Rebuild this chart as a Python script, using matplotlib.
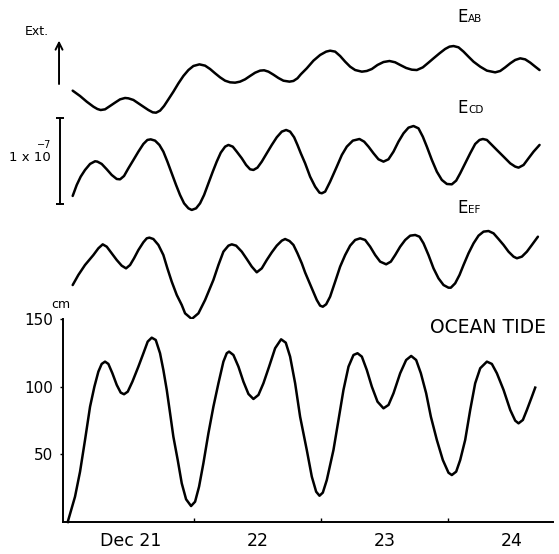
import matplotlib
matplotlib.use("Agg")
import matplotlib.pyplot as plt

# hours from the start of Dec 21 and trace values (units of 1e-7)
AB_HOURS = [1.07, 2.46, 3.72, 4.98, 5.73, 6.36, 7.18, 8.13, 9.07, 10.02, 10.96, 11.59, 12.54,
            13.48, 14.42, 15.37, 16.19, 16.82, 17.58, 18.33, 19.15, 20.09, 21.04, 21.98, 22.93,
            23.87, 25.01, 26.08, 27.02, 27.97, 28.91, 29.86, 30.80, 31.75, 32.69, 33.64, 34.58,
            35.53, 36.47, 37.23, 38.05, 38.99, 39.94, 40.88, 42.02, 42.77, 43.53, 44.16, 45.29,
            46.55, 47.81, 48.95, 49.70, 50.65, 51.59, 52.54, 53.48, 54.43, 55.69, 56.63, 57.58,
            58.65, 59.78, 60.91, 61.98, 62.93, 64.06, 65.13, 66.08, 67.21, 68.28, 69.23, 70.36,
            71.43, 72.25, 73.01, 73.95, 74.90, 75.84, 76.79, 78.05, 79.31, 80.88, 81.83, 82.77,
            83.72, 84.66, 85.61, 86.55, 87.50, 88.45, 89.26]
AB_VALUES = [-0.066, -0.128, -0.194, -0.252, -0.279, -0.291, -0.283, -0.244, -0.205, -0.167,
             -0.151, -0.155, -0.174, -0.213, -0.252, -0.291, -0.318, -0.322, -0.298, -0.244,
             -0.167, -0.078, 0.019, 0.105, 0.174, 0.221, 0.240, 0.225, 0.186, 0.136, 0.089,
             0.050, 0.031, 0.027, 0.039, 0.066, 0.105, 0.143, 0.167, 0.171, 0.155, 0.120, 0.081,
             0.050, 0.039, 0.047, 0.078, 0.124, 0.194, 0.283, 0.349, 0.388, 0.399, 0.388, 0.337,
             0.271, 0.213, 0.174, 0.155, 0.163, 0.186, 0.233, 0.267, 0.279, 0.264, 0.233, 0.198,
             0.178, 0.174, 0.205, 0.260, 0.310, 0.368, 0.419, 0.446, 0.453, 0.438, 0.388, 0.329,
             0.271, 0.213, 0.167, 0.147, 0.163, 0.205, 0.252, 0.291, 0.310, 0.298, 0.260, 0.213,
             0.174]

CD_HOURS = [1.07, 1.83, 2.58, 3.40, 4.35, 5.29, 5.73, 6.55, 7.50, 8.44, 9.39, 10.02, 10.77,
            11.59, 12.54, 13.48, 14.42, 15.18, 15.81, 16.63, 17.45, 18.20, 18.96, 19.78, 20.60,
            21.35, 22.11, 22.93, 23.56, 24.38, 25.13, 25.89, 26.71, 27.53, 28.28, 29.04, 29.86,
            30.49, 31.31, 32.06, 33.01, 33.83, 34.58, 35.21, 35.97, 36.79, 37.73, 38.68, 39.62,
            40.57, 41.39, 42.14, 42.90, 43.53, 44.16, 44.98, 45.92, 46.87, 47.69, 48.13, 48.76,
            49.70, 50.96, 51.91, 52.85, 53.99, 55.24, 56.13, 56.95, 57.89, 58.83, 59.78, 60.72,
            61.67, 62.61, 63.56, 64.50, 65.45, 66.39, 67.21, 67.97, 68.92, 69.86, 70.80, 71.75,
            72.69, 73.51, 74.27, 75.21, 76.16, 77.10, 77.92, 78.55, 79.31, 80.25, 81.20, 82.46,
            83.72, 84.66, 85.29, 86.24, 87.18, 88.13, 89.26]
CD_VALUES = [-0.360, -0.233, -0.136, -0.058, 0.012, 0.043, 0.039, 0.012, -0.050, -0.116, -0.163,
             -0.167, -0.128, -0.039, 0.058, 0.155, 0.244, 0.291, 0.298, 0.283, 0.233, 0.155,
             0.039, -0.097, -0.233, -0.349, -0.446, -0.504, -0.523, -0.504, -0.446, -0.349,
             -0.213, -0.078, 0.039, 0.143, 0.213, 0.233, 0.213, 0.155, 0.078, 0.000, -0.050,
             -0.058, -0.031, 0.039, 0.136, 0.233, 0.322, 0.388, 0.407, 0.388, 0.322, 0.233,
             0.136, 0.019, -0.136, -0.252, -0.322, -0.329, -0.310, -0.194, -0.019, 0.116, 0.213,
             0.283, 0.302, 0.271, 0.213, 0.136, 0.066, 0.039, 0.066, 0.155, 0.271, 0.368, 0.434,
             0.453, 0.426, 0.329, 0.213, 0.058, -0.078, -0.174, -0.221, -0.225, -0.182, -0.097,
             0.019, 0.136, 0.244, 0.291, 0.302, 0.291, 0.233, 0.174, 0.097, 0.019, -0.019,
             -0.031, 0.000, 0.078, 0.155, 0.233]

EF_HOURS = [1.07, 2.14, 3.40, 4.98, 5.92, 6.74, 7.50, 8.44, 9.39, 10.33, 11.15, 11.91, 12.66,
            13.48, 14.42, 15.06, 15.56, 16.31, 17.26, 18.20, 18.96, 19.78, 20.73, 21.67, 22.30,
            23.56, 24.82, 26.08, 27.65, 28.60, 29.54, 30.49, 31.12, 31.94, 33.01, 33.95, 34.90,
            35.84, 36.79, 37.73, 38.68, 39.62, 40.57, 41.20, 42.02, 42.77, 43.53, 44.35, 44.98,
            46.24, 47.18, 47.81, 48.32, 48.95, 49.70, 50.65, 51.59, 52.54, 53.48, 54.43, 55.37,
            56.31, 57.26, 58.21, 59.15, 60.28, 61.17, 61.99, 62.93, 63.88, 64.82, 65.77, 66.58,
            67.34, 68.28, 69.23, 70.17, 71.12, 72.06, 72.50, 73.32, 74.14, 74.90, 75.84, 76.79,
            77.73, 78.68, 79.62, 80.57, 81.51, 82.46, 83.40, 84.35, 84.98, 85.92, 86.87, 87.81,
            88.95]
EF_VALUES = [-0.233, -0.116, 0.000, 0.116, 0.194, 0.240, 0.213, 0.136, 0.058, -0.008, -0.039,
             0.000, 0.078, 0.174, 0.264, 0.310, 0.318, 0.302, 0.233, 0.116, -0.039, -0.194,
             -0.349, -0.465, -0.562, -0.628, -0.562, -0.407, -0.174, 0.000, 0.155, 0.225, 0.240,
             0.225, 0.155, 0.070, -0.019, -0.085, -0.039, 0.058, 0.147, 0.225, 0.283, 0.302,
             0.279, 0.233, 0.136, 0.019, -0.088, -0.271, -0.407, -0.473, -0.485, -0.457, -0.368,
             -0.194, -0.019, 0.116, 0.225, 0.291, 0.310, 0.291, 0.213, 0.116, 0.039, 0.008, 0.039,
             0.116, 0.213, 0.291, 0.341, 0.349, 0.329, 0.252, 0.116, -0.039, -0.155, -0.233,
             -0.264, -0.264, -0.213, -0.116, 0.000, 0.136, 0.252, 0.341, 0.388, 0.395, 0.368,
             0.302, 0.233, 0.155, 0.097, 0.078, 0.097, 0.155, 0.233, 0.329]

TIDE_HOURS = [0.13, 1.51, 2.46, 3.40, 4.35, 5.17, 5.92, 6.55, 7.18, 7.81, 8.57, 9.39, 10.14,
              10.77, 11.47, 12.35, 13.48, 14.43, 15.24, 16.00, 16.76, 17.57, 18.20, 18.84, 19.47,
              20.09, 20.91, 21.67, 22.49, 23.43, 24.19, 24.94, 25.76, 26.71, 27.65, 28.60, 29.54,
              30.17, 30.61, 31.43, 32.38, 33.32, 34.27, 35.21, 36.16, 37.10, 38.17, 39.31, 40.44,
              41.32, 42.14, 43.09, 44.03, 45.29, 46.24, 47.06, 47.69, 48.32, 49.07, 50.33, 51.28,
              52.22, 53.17, 54.11, 54.87, 55.69, 56.63, 57.58, 58.65, 59.78, 60.73, 61.67, 62.93,
              64.06, 65.01, 65.95, 66.84, 67.84, 68.73, 69.86, 70.99, 72.06, 72.69, 73.51, 74.27,
              75.21, 76.16, 77.10, 78.05, 79.31, 80.25, 81.20, 82.46, 83.72, 84.66, 85.29, 86.11,
              86.87, 87.81, 88.44]
TIDE_CM = [0.0, 18.7, 37.2, 60.6, 85.2, 100.0, 111.1, 116.8, 118.5, 116.8, 109.9, 101.3, 95.6,
           94.4, 96.3, 103.7, 114.8, 124.7, 133.3, 136.2, 134.5, 124.7, 112.3, 97.6, 80.3,
           63.0, 45.8, 28.6, 16.8, 11.8, 15.0, 26.1, 43.4, 65.6, 85.2, 102.5, 118.5,
           124.7, 125.9, 123.4, 114.8, 103.7, 94.6, 90.9, 93.9, 102.5, 114.8, 128.4, 135.0,
           132.5, 122.2, 102.5, 77.8, 53.2, 33.5, 22.4, 19.4, 21.7, 31.0, 53.2, 75.4,
           97.6, 114.8, 123.4, 124.7, 122.2, 112.3, 100.0, 88.9, 84.0, 86.5, 95.1, 109.9,
           119.7, 122.7, 119.7, 109.9, 95.1, 77.8, 60.6, 45.8, 36.4, 34.7, 37.2, 45.8,
           60.6, 82.8, 102.5, 113.6, 118.5, 116.8, 109.9, 97.6, 82.8, 74.9, 72.9, 75.4,
           82.8, 92.6, 99.3]

DAY_TICKS = [24, 48, 72]
DAY_LABEL_POS = [12, 36, 60, 84]
DAY_LABELS = ["Dec 21", "22", "23", "24"]

# vertical placement of the three traces (units of 1e-7)
OFFSETS = {"AB": 2.721, "CD": 1.791, "EF": 0.628}
XLIM = (-0.76, 91.8)

W, H = 559, 554
fig = plt.figure(figsize=(W / 100, H / 100), dpi=100)
fig.patch.set_facecolor("white")

LW = 1.8
INK = "black"

# top panel: the three extension records
top = fig.add_axes([63 / W, (H - 319) / H, 490 / W, 319 / H])
top.set_xlim(*XLIM)
top.set_ylim(0, 319 / 86)
top.axis("off")
for key, hrs, vals in [("AB", AB_HOURS, AB_VALUES), ("CD", CD_HOURS, CD_VALUES), ("EF", EF_HOURS, EF_VALUES)]:
    top.plot(hrs, [v + OFFSETS[key] for v in vals], color=INK, lw=LW,
             solid_joinstyle="round", solid_capstyle="round", clip_on=False)

for key, yb in [("AB", 3.453), ("CD", 2.395), ("EF", 1.233)]:
    top.text(73.7, yb, "E", fontsize=12, va="baseline", ha="left", color=INK)
    top.annotate(key, xy=(73.7, yb), xytext=(8, 0), textcoords="offset points",
                 fontsize=7.5, va="baseline", ha="left", color=INK)

# Ext. arrow
top.annotate("", xy=(-1.51, 3.27), xytext=(-1.51, 2.70),
             arrowprops=dict(arrowstyle="->,head_length=0.5,head_width=0.25", lw=1.4, color=INK),
             annotation_clip=False)
top.text(-5.67, 3.30, "Ext.", fontsize=9, ha="center", va="baseline", color=INK, clip_on=False)

# scale bar 1e-7
top.plot([-1.32, -1.32], [1.337, 2.337], color=INK, lw=1.4, clip_on=False)
top.plot([-1.32, -1.32], [1.337, 2.337], ls="none", marker="_", ms=6, mew=1.4, color=INK, clip_on=False)
top.text(-3.0, 1.837, "1 x 10", fontsize=9.5, ha="right", va="baseline", color=INK, clip_on=False)
top.text(-3.0, 1.99, "\u22127", fontsize=7, ha="right", va="baseline", color=INK, clip_on=False)

# bottom panel: ocean tide
ax = fig.add_axes([63 / W, 32 / H, 490 / W, 203 / H])
ax.plot(TIDE_HOURS, TIDE_CM, color=INK, lw=LW, solid_joinstyle="round", clip_on=False)
ax.set_xlim(*XLIM)
ax.set_ylim(0, 150)
for side in ["top", "right"]:
    ax.spines[side].set_visible(False)
for side in ["left", "bottom"]:
    ax.spines[side].set_linewidth(1.4)
ax.set_yticks([50, 100, 150])
ax.set_yticklabels(["50", "100", "150"])
ax.tick_params(axis="y", direction="out", length=2, width=1, pad=5, labelsize=11)
ax.set_xticks(DAY_TICKS)
ax.set_xticklabels([])
ax.tick_params(axis="x", which="major", direction="in", length=3, width=1)
ax.set_xticks(DAY_LABEL_POS, minor=True)
ax.set_xticklabels(DAY_LABELS, minor=True)
ax.tick_params(axis="x", which="minor", length=0, pad=7, labelsize=12.5)
ax.annotate("cm", xy=(0, 1), xycoords="axes fraction", xytext=(-1.5, 8),
            textcoords="offset points", fontsize=9, ha="center", va="baseline")
ax.text(79.6, 139.7, "OCEAN TIDE", fontsize=13.5, ha="center", va="baseline", color=INK)

fig.savefig("out.png", dpi=100, facecolor="white")
